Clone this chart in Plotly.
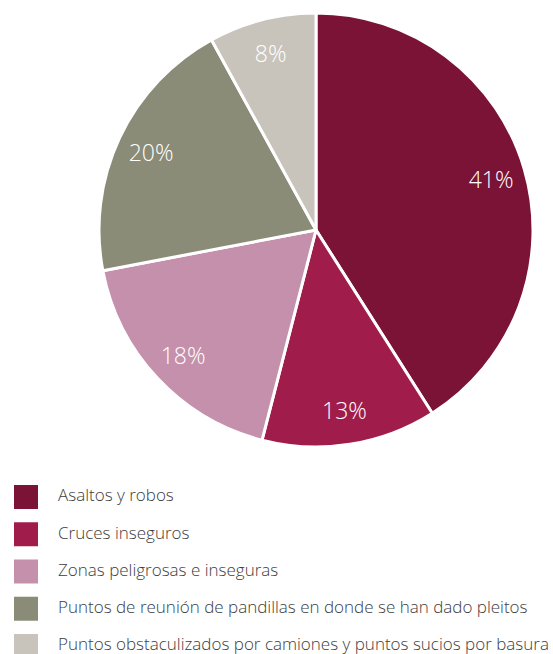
import plotly.graph_objects as go

categories = [
    "Asaltos y robos",
    "Cruces inseguros",
    "Zonas peligrosas e inseguras",
    "Puntos de reunión de pandillas en donde se han dado pleitos",
    "Puntos obstaculizados por camiones y puntos sucios por basura",
]
values = [41, 13, 18, 20, 8]
colors = ["#7a1335", "#a01d4b", "#c490ab", "#8a8c78", "#c8c4bc"]

W, H = 553, 654
FONT = "Open Sans"
pie_domain = dict(x=[98 / W, 534 / W], y=[1 - 447 / H, 1 - 13 / H])

fig = go.Figure()

# Coloured slices
fig.add_trace(go.Pie(
    labels=categories,
    values=values,
    sort=False,
    direction="clockwise",
    rotation=0,
    marker=dict(colors=colors, line=dict(color="white", width=3)),
    textinfo="none",
    domain=pie_domain,
    showlegend=False,
    hoverinfo="label+percent",
))
# Transparent ring carrying the percentage labels toward the rim
fig.add_trace(go.Pie(
    labels=categories,
    values=values,
    sort=False,
    direction="clockwise",
    rotation=0,
    hole=0.68,
    marker=dict(colors=["rgba(0,0,0,0)"] * len(values), line=dict(width=0)),
    texttemplate="%{percent:.0%}",
    textposition="inside",
    insidetextorientation="horizontal",
    textfont=dict(family=FONT, size=23, color="white", weight=300),
    domain=pie_domain,
    showlegend=False,
    hoverinfo="skip",
))

# Custom legend drawn with library axes
idx = list(range(len(categories)))
fig.add_trace(go.Scatter(
    x=[0] * len(categories),
    y=idx,
    mode="markers",
    marker=dict(symbol="square", size=24, color=colors, line=dict(width=0)),
    xaxis="x", yaxis="y",
    showlegend=False,
    hoverinfo="skip",
))
fig.add_trace(go.Scatter(
    x=[32] * len(categories),
    y=idx,
    mode="text",
    text=categories,
    textposition="middle right",
    textfont=dict(family=FONT, size=17, color="#3c3c3c", weight=300),
    xaxis="x", yaxis="y",
    showlegend=False,
    hoverinfo="skip",
))

fig.update_layout(
    width=W, height=H,
    margin=dict(l=0, r=0, t=0, b=0),
    paper_bgcolor="white",
    plot_bgcolor="rgba(0,0,0,0)",
    xaxis=dict(domain=[0, 1], range=[-26, W - 26], visible=False, fixedrange=True),
    yaxis=dict(domain=[0, (H - 478) / H], range=[4.215, -0.51], visible=False, fixedrange=True),
)

fig.write_html(
    "out.html",
    config=dict(displayModeBar=False),
    post_script="document.body.style.margin='0px';document.body.style.overflow='hidden';",
)
